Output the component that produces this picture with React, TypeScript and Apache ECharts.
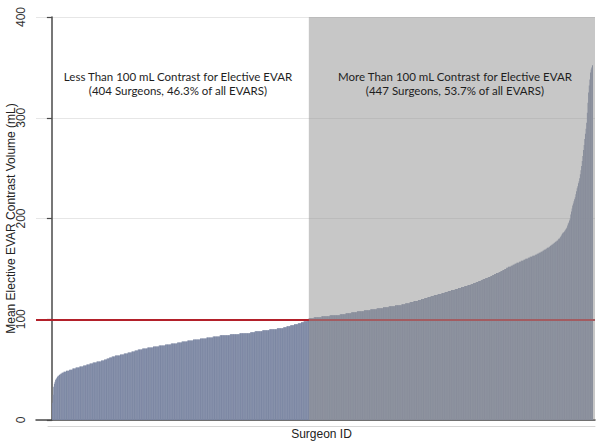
import React, { useEffect, useRef } from "react";
import * as echarts from "echarts";

// Mean elective EVAR contrast volume (mL) per surgeon, sorted ascending.
// Surgeons using less than 100 mL (404 surgeons)
const lowGroup = [
  17, 25, 33, 36, 38, 40, 41, 42, 43, 44,
  44, 45, 45, 46, 46, 47, 47, 47, 48, 48,
  48, 48, 49, 49, 49, 49, 49, 50, 50, 50,
  50, 50, 51, 51, 51, 51, 51, 52, 52, 52,
  52, 52, 52, 53, 53, 53, 53, 53, 53, 54,
  54, 54, 54, 54, 55, 55, 55, 55, 55, 56,
  56, 56, 56, 56, 57, 57, 57, 57, 57, 57,
  58, 58, 58, 58, 58, 58, 58, 59, 59, 59,
  59, 59, 60, 60, 60, 60, 61, 61, 61, 61,
  62, 62, 62, 62, 63, 63, 63, 63, 63, 64,
  64, 64, 64, 64, 64, 64, 64, 65, 65, 65,
  65, 65, 65, 66, 66, 66, 66, 66, 66, 67,
  67, 67, 67, 67, 67, 68, 68, 68, 68, 68,
  69, 69, 69, 69, 69, 70, 70, 70, 70, 70,
  70, 70, 71, 71, 71, 71, 71, 71, 71, 71,
  72, 72, 72, 72, 72, 72, 72, 72, 72, 73,
  73, 73, 73, 73, 73, 73, 73, 73, 74, 74,
  74, 74, 74, 74, 74, 74, 74, 74, 75, 75,
  75, 75, 75, 75, 75, 75, 75, 76, 76, 76,
  76, 76, 76, 76, 76, 76, 76, 77, 77, 77,
  77, 77, 77, 77, 78, 78, 78, 78, 78, 78,
  78, 78, 78, 79, 79, 79, 79, 79, 79, 79,
  79, 79, 80, 80, 80, 80, 80, 80, 80, 80,
  80, 80, 80, 81, 81, 81, 81, 81, 81, 81,
  81, 81, 81, 82, 82, 82, 82, 82, 82, 82,
  82, 82, 82, 83, 83, 83, 83, 83, 83, 83,
  83, 83, 83, 83, 84, 84, 84, 84, 84, 84,
  84, 84, 84, 84, 84, 84, 84, 84, 84, 84,
  85, 85, 85, 85, 85, 85, 85, 85, 85, 85,
  85, 85, 85, 85, 85, 86, 86, 86, 86, 86,
  86, 86, 86, 86, 86, 86, 86, 86, 86, 86,
  86, 86, 87, 87, 87, 87, 87, 87, 87, 88,
  88, 88, 88, 88, 88, 88, 88, 88, 88, 88,
  88, 89, 89, 89, 89, 89, 89, 89, 89, 89,
  89, 89, 90, 90, 90, 90, 90, 90, 90, 90,
  90, 90, 90, 90, 91, 91, 91, 91, 91, 91,
  91, 91, 91, 91, 92, 92, 92, 92, 92, 93,
  93, 93, 93, 93, 93, 94, 94, 94, 94, 94,
  94, 95, 95, 95, 95, 95, 95, 96, 96, 96,
  96, 96, 97, 97, 97, 97, 98, 98, 98, 98,
  98, 99, 99, 99,
];

// Surgeons using more than 100 mL (447 surgeons)
const highGroup = [
  101, 101, 101, 101, 101, 101,
  101, 101, 102, 102, 102, 102, 102, 102, 102, 102,
  102, 102, 102, 102, 103, 103, 103, 103, 103, 103,
  103, 103, 103, 103, 103, 103, 103, 104, 104, 104,
  104, 104, 104, 104, 104, 104, 104, 104, 104, 104,
  104, 104, 104, 105, 105, 105, 105, 105, 105, 105,
  105, 105, 106, 106, 106, 106, 106, 106, 106, 106,
  106, 107, 107, 107, 107, 107, 107, 107, 107, 107,
  108, 108, 108, 108, 108, 108, 108, 108, 108, 108,
  108, 109, 109, 109, 109, 109, 109, 109, 109, 109,
  109, 110, 110, 110, 110, 110, 110, 110, 110, 110,
  110, 111, 111, 111, 111, 111, 111, 111, 111, 111,
  111, 112, 112, 112, 112, 112, 112, 112, 112, 112,
  113, 113, 113, 113, 113, 113, 113, 113, 113, 113,
  114, 114, 114, 114, 114, 114, 114, 114, 114, 114,
  115, 115, 115, 115, 115, 115, 116, 116, 116, 116,
  116, 116, 116, 117, 117, 117, 117, 117, 117, 118,
  118, 118, 118, 118, 118, 118, 119, 119, 119, 119,
  119, 120, 120, 120, 120, 120, 121, 121, 121, 121,
  121, 122, 122, 122, 122, 122, 123, 123, 123, 123,
  123, 124, 124, 124, 124, 124, 124, 125, 125, 125,
  125, 125, 125, 126, 126, 126, 126, 126, 127, 127,
  127, 127, 127, 128, 128, 128, 128, 128, 129, 129,
  129, 129, 129, 129, 130, 130, 130, 130, 130, 131,
  131, 131, 131, 131, 132, 132, 132, 132, 132, 133,
  133, 133, 133, 133, 134, 134, 134, 134, 134, 135,
  135, 135, 135, 136, 136, 136, 136, 137, 137, 137,
  137, 138, 138, 138, 138, 139, 139, 139, 140, 140,
  140, 140, 141, 141, 141, 141, 142, 142, 142, 142,
  143, 143, 143, 144, 144, 144, 145, 145, 145, 146,
  146, 146, 146, 147, 147, 147, 148, 148, 148, 149,
  149, 149, 150, 150, 150, 151, 151, 151, 152, 152,
  152, 152, 153, 153, 153, 154, 154, 154, 155, 155,
  155, 156, 156, 156, 156, 157, 157, 157, 158, 158,
  158, 158, 159, 159, 159, 160, 160, 160, 160, 161,
  161, 161, 162, 162, 162, 162, 163, 163, 163, 163,
  164, 164, 164, 165, 165, 165, 166, 166, 166, 167,
  167, 167, 168, 168, 169, 169, 169, 170, 170, 171,
  171, 171, 172, 172, 173, 173, 174, 174, 175, 175,
  176, 176, 177, 177, 178, 178, 179, 180, 180, 181,
  182, 183, 184, 185, 186, 186, 187, 188, 189, 190,
  191, 193, 195, 196, 198, 200, 204, 207, 210, 213,
  215, 217, 219, 221, 224, 227, 230, 232, 235, 237,
  240, 244, 248, 252, 257, 262, 268, 273, 279, 284,
  289, 295, 305, 315, 325, 332, 338, 345, 348, 350, 352,
];

const thresholdMl = 100;
const yMin = 0;
const yMax = 400;
const yStep = 100;

const leftNote = [
  "Less Than 100 mL Contrast for Elective EVAR",
  "(404 Surgeons, 46.3% of all EVARS)",
];
const rightNote = [
  "More Than 100 mL Contrast for Elective EVAR",
  "(447 Surgeons, 53.7% of all EVARS)",
];

const yTitle = "Mean Elective EVAR Contrast Volume (mL)";
const xTitle = "Surgeon ID";

export default function App() {
  const ref = useRef<HTMLDivElement>(null);

  useEffect(() => {
    if (!ref.current) return;
    const chart = echarts.init(ref.current, null, { renderer: "svg" });

    const values = [...lowGroup, ...highGroup];
    const barData = values.map((v, i) => [i + 1, v]);
    const xMin = -25;
    const xMax = values.length + 4;
    const splitAt = lowGroup.length + 0.5;

    const axisColor = "#4a4a4a";
    const sansFont = "Liberation Sans, Arial, sans-serif";
    const noteFont = "Lato, 'Noto Sans', sans-serif";

    const noteStyle = {
      textAlign: "center",
      fontFamily: noteFont,
      fontSize: 11.5,
      lineHeight: 14,
      fill: "#1e1e1e",
    };

    chart.setOption({
      animation: false,
      grid: [
        { left: 36, right: 6, top: 17, bottom: 22, outerBoundsMode: "none", containLabel: false },
        { left: 48, right: 6, top: 380, bottom: 16, outerBoundsMode: "none", containLabel: false },
      ],
      xAxis: [
        {
          type: "value",
          gridIndex: 0,
          min: xMin,
          max: xMax,
          axisLine: { show: true, onZero: true, lineStyle: { color: axisColor, width: 1.5 } },
          axisTick: { show: false },
          axisLabel: { show: false },
          splitLine: { show: false },
        },
        {
          type: "value",
          gridIndex: 1,
          min: 0,
          max: 1,
          position: "bottom",
          axisLine: { show: true, onZero: false, lineStyle: { color: "#d6d6d6", width: 1 } },
          axisTick: { show: false },
          axisLabel: { show: false },
          splitLine: { show: false },
          name: xTitle,
          nameLocation: "middle",
          nameGap: 2,
          nameMoveOverlap: false,
          nameTextStyle: { fontFamily: sansFont, fontSize: 12, color: "#222", verticalAlign: "top" },
        },
      ],
      yAxis: [
        {
          type: "value",
          gridIndex: 0,
          min: yMin,
          max: yMax,
          interval: yStep,
          axisLine: { show: true, lineStyle: { color: axisColor, width: 1.5 } },
          axisTick: { show: true, length: 5, lineStyle: { color: axisColor, width: 1.2 } },
          axisLabel: {
            show: true,
            rotate: 90,
            margin: 9,
            fontFamily: sansFont,
            fontSize: 12,
            color: "#333",
          },
          splitLine: { show: true, lineStyle: { color: "#e6e6e6", width: 1 } },
          name: yTitle,
          nameLocation: "middle",
          nameRotate: 90,
          nameGap: 19,
          nameMoveOverlap: false,
          nameTextStyle: { fontFamily: sansFont, fontSize: 12, color: "#222" },
        },
        { type: "value", gridIndex: 1, show: false, min: 0, max: 1 },
      ],
      series: [
        {
          type: "bar",
          xAxisIndex: 0,
          yAxisIndex: 0,
          data: barData,
          barWidth: 1,
          itemStyle: { color: "#7C87A3" },
          z: 2,
          silent: true,
          markLine: {
            silent: true,
            symbol: "none",
            label: { show: false },
            lineStyle: { color: "#b3202a", width: 2, type: "solid" },
            data: [{ yAxis: thresholdMl }],
          },
        },
        {
          type: "custom",
          xAxisIndex: 0,
          yAxisIndex: 0,
          z: 5,
          silent: true,
          data: [[splitAt, xMax, yMin, yMax]],
          encode: { x: [0, 1], y: [2, 3] },
          renderItem: (params: any, api: any) => {
            const p0 = api.coord([api.value(0), api.value(3)]);
            const p1 = api.coord([api.value(1), api.value(2)]);
            return {
              type: "rect",
              shape: { x: p0[0], y: p0[1], width: p1[0] - p0[0], height: p1[1] - p0[1] },
              style: { fill: "rgba(148,148,148,0.52)" },
            };
          },
        },
      ],
      graphic: [
        { id: "noteLeft", type: "text", x: 178, y: 69, z: 10, style: { ...noteStyle, text: leftNote.join("\n") } },
        { id: "noteRight", type: "text", x: 455, y: 69, z: 10, style: { ...noteStyle, text: rightNote.join("\n") } },
      ],
    });

    return () => chart.dispose();
  }, []);

  return (
    <div
      ref={ref}
      style={{ position: "fixed", left: 0, top: 0, width: 601, height: 442, background: "#fff" }}
    />
  );
}
